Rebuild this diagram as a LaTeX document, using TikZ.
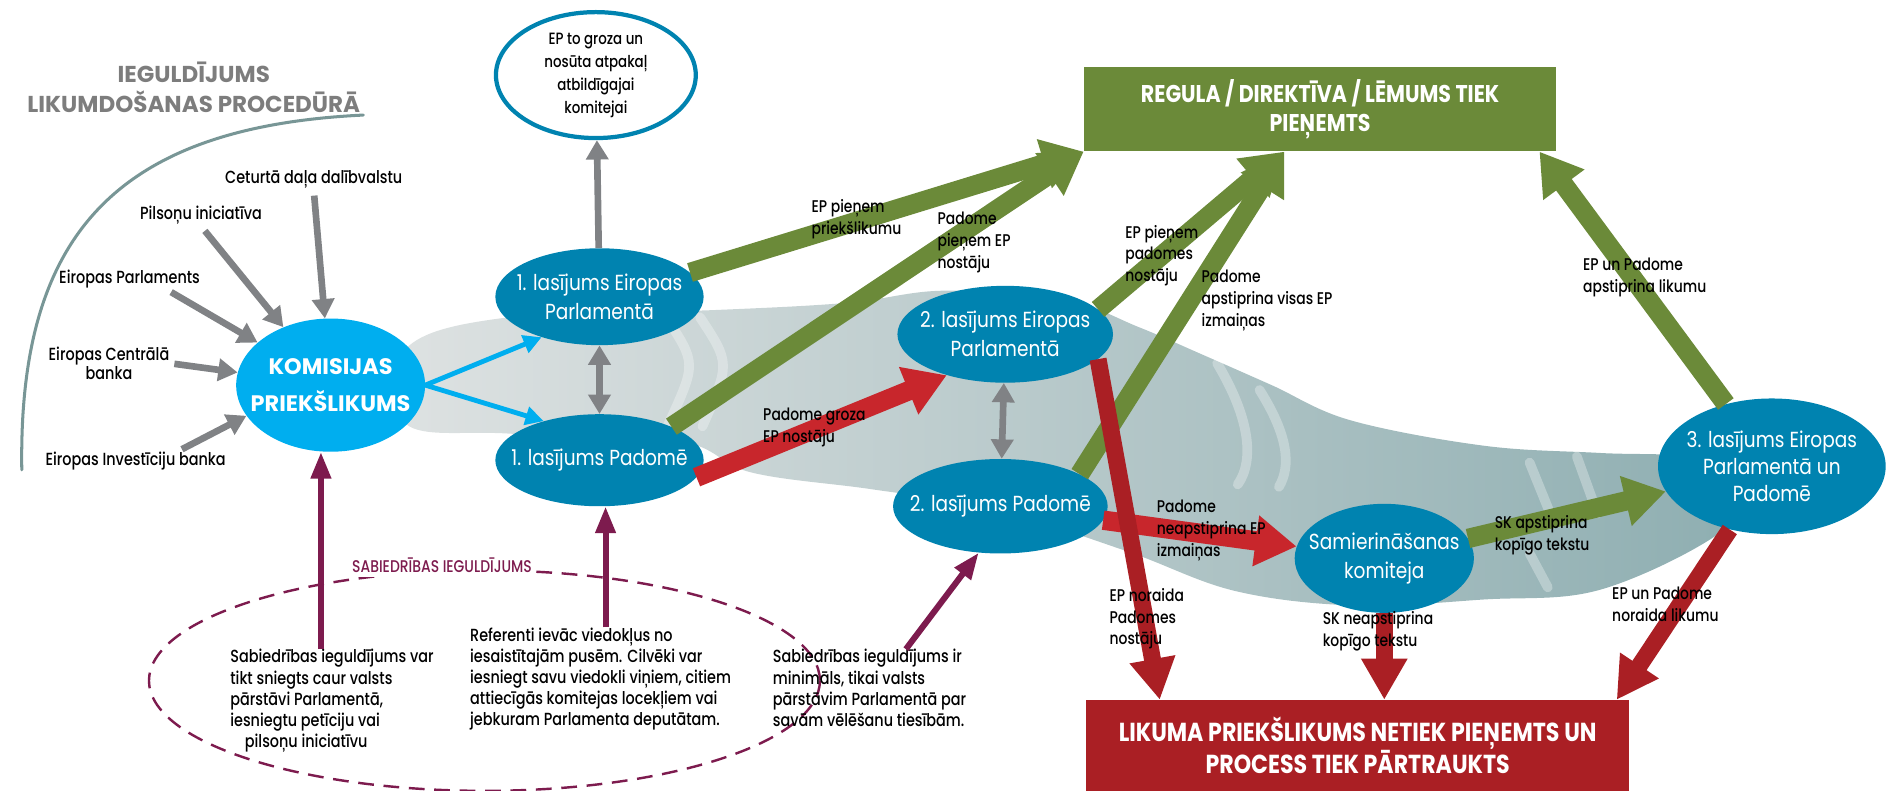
\documentclass[tikz,border=0pt]{standalone}
\usepackage{fontspec}
\setmainfont{Poppins}
\newfontfamily\narrowfont[FakeStretch=0.85]{Poppins}
\newfontfamily\labelfont[FakeStretch=0.82]{Poppins Medium}
\usepackage{tikz}
\tikzset{>=latex}
\usetikzlibrary{positioning,calc,arrows.meta,shapes.geometric}

\definecolor{epblue}{RGB}{0,131,176}
\definecolor{komcyan}{RGB}{0,174,239}
\definecolor{okgreen}{RGB}{107,138,57}
\definecolor{failred}{RGB}{200,38,44}
\definecolor{boxred}{RGB}{170,31,36}
\definecolor{flowgray}{RGB}{128,130,133}
\definecolor{pubpurple}{RGB}{125,27,78}
\definecolor{titlegray}{RGB}{125,125,125}
\definecolor{arcteal}{RGB}{120,150,150}
\definecolor{bandlight}{RGB}{222,226,226}
\definecolor{bandmid}{RGB}{180,199,201}
\definecolor{banddark}{RGB}{142,174,177}

\begin{document}
\begin{tikzpicture}[x=1pt,y=-1pt,
    lasijums/.style={ellipse,fill=epblue,text=white,align=center,inner ysep=0pt,inner xsep=-12pt,
        font=\narrowfont\fontsize{18}{24}\selectfont},
    komnode/.style={ellipse,fill=komcyan,text=white,align=center,inner ysep=0pt,inner xsep=-14pt,
        minimum width=156pt,minimum height=110pt,font=\bfseries\fontsize{18.5}{30}\selectfont},
    retnode/.style={ellipse,draw=epblue,line width=3.5pt,fill=white,align=center,inner sep=0pt,
        minimum width=165pt,minimum height=104pt,font=\labelfont\fontsize{13.5}{19}\selectfont},
    endbox/.style={rectangle,text=white,align=center,inner sep=0pt,
        font=\narrowfont\bfseries\fontsize{20}{24}\selectfont},
    srclabel/.style={align=center,inner sep=1pt,font=\labelfont\fontsize{14.5}{16}\selectfont},
    arrowlabel/.style={anchor=west,align=left,inner sep=0pt,font=\labelfont\fontsize{14}{18}\selectfont},
    pubtext/.style={anchor=north west,align=left,inner sep=0pt,font=\labelfont\fontsize{14.5}{17.5}\selectfont},
    pubring/.style={ellipse,draw=pubpurple,line width=2pt,dash pattern=on 13pt off 8pt,
        minimum width=554pt,minimum height=182pt},
    streak/.style={white,opacity=0.3,line width=8pt,line cap=round},
    greenflow/.style={okgreen,line width=16pt,-{Triangle[width=40pt,length=34pt]}},
    redflow/.style={failred,line width=16pt,-{Triangle[width=40pt,length=34pt]}},
    darkredflow/.style={boxred,line width=14pt,-{Triangle[width=36pt,length=34pt]}},
    grayflow/.style={flowgray,line width=5.5pt,-{Triangle[width=18pt,length=16pt]}},
    graytwoway/.style={flowgray,line width=5.5pt,{Triangle[width=18pt,length=16pt]}-{Triangle[width=18pt,length=16pt]}},
    cyanflow/.style={komcyan,line width=4pt,-{Triangle[width=15pt,length=15pt]}},
    pubflow/.style={pubpurple,line width=5pt,-{Triangle[width=16pt,length=22pt]}}
    ]
\useasboundingbox (0,0) rectangle (1568,653);

% smoky band behind the procedure
\shade[left color=bandlight,middle color=bandmid,right color=banddark]
    plot[smooth cycle,tension=0.6] coordinates {(335,288) (420,262) (590,256) (700,250) (780,240)
    (880,248) (940,270) (991,292) (1050,318) (1115,347) (1225,368) (1321,374) (1400,378) (1440,400)
    (1420,440) (1321,487) (1225,495) (1120,500) (1020,488) (930,455) (820,420) (720,404)
    (620,390) (560,364) (420,358) (335,350)};
\draw[streak] (550,262) .. controls (575,300) .. (552,350);
\draw[streak] (578,262) .. controls (603,300) .. (580,352);
\draw[streak] (1005,300) .. controls (1032,345) and (1036,380) .. (1022,400);
\draw[streak] (1040,322) .. controls (1064,360) and (1066,385) .. (1056,402);
\draw[streak] (1263,382) -- (1280,424);
\draw[streak] (1302,377) -- (1319,424);
\draw[streak] (1263,457) -- (1278,485);

% title and arc
\node[align=center,text=titlegray,font=\bfseries\fontsize{19}{25}\selectfont] (title) at (160,72)
    {IEGULDĪJUMS\\LIKUMDOŠANAS PROCEDŪRĀ};
\draw[arcteal,line width=2.5pt,line cap=round] (18,388) .. controls (15,200) and (90,105) .. (300,95);

% public input ring
\node[pubring] (ring) at (400,562) {};

% main nodes
\node[komnode] (kom) at (273,318) {KOMISIJAS\\PRIEKŠLIKUMS};
\node[retnode] (ret) at (492,62) {EP to groza un\\nosūta atpakaļ\\atbildīgajai\\komitejai};
\node[lasijums,minimum width=172pt,minimum height=80pt] (ep1) at (495,245) {1. lasījums Eiropas\\Parlamentā};
\node[lasijums,minimum width=172pt,minimum height=76pt] (pad1) at (495,380) {1. lasījums Padomē};
\node[lasijums,minimum width=178pt,minimum height=80pt] (ep2) at (830,276) {2. lasījums Eiropas\\Parlamentā};
\node[lasijums,minimum width=170pt,minimum height=78pt] (pad2) at (826,418) {2. lasījums Padomē};
\node[lasijums,minimum width=148pt,minimum height=90pt] (samier) at (1143,461) {Samierināšanas\\komiteja};
\node[lasijums,minimum width=188pt,minimum height=112pt,font=\narrowfont\fontsize{18}{22.5}\selectfont] (third) at (1463,385)
    {3. lasījums Eiropas\\Parlamentā un\\Padomē};
\node[endbox,fill=okgreen,minimum width=390pt,minimum height=70pt] (regula) at (1090,90)
    {REGULA / DIREKTĪVA / LĒMUMS TIEK\\PIEŅEMTS};
\node[endbox,fill=boxred,minimum width=448pt,minimum height=75pt,font=\narrowfont\bfseries\fontsize{21.5}{24}\selectfont] (fail) at (1121,615.5)
    {LIKUMA PRIEKŠLIKUMS NETIEK PIEŅEMTS UN\\PROCESS TIEK PĀRTRAUKTS};

% who can start
\node[srclabel] (cet) at (259,148) {Ceturtā daļa dalībvalstu};
\node[srclabel] (pil) at (166,178) {Pilsoņu iniciatīva};
\node[srclabel] (epsrc) at (107,230) {Eiropas Parlaments};
\node[srclabel] (ecb) at (90,300) {Eiropas Centrālā\\banka};
\node[srclabel] (eib) at (112,381) {Eiropas Investīciju banka};

\draw[grayflow,shorten <=5pt] (cet.south) -- (kom);
\draw[grayflow,shorten <=5pt] (pil.south) -- (kom);
\draw[grayflow,shorten <=5pt] ([xshift=30pt]epsrc.south) -- (kom);
\draw[grayflow,shorten <=3pt] (ecb.east) -- (kom);
\draw[grayflow,shorten <=3pt] ([xshift=-40pt]eib.north east) -- (kom.200);

% commission to first reading
\draw[cyanflow] (kom.east) -- (ep1.215);
\draw[cyanflow] (kom.east) -- (pad1.145);
\draw[grayflow] (ep1) -- (ret);
\draw[graytwoway] (ep1) -- (pad1);
\draw[graytwoway] (ep2) -- (pad2);

% adopted
\draw[greenflow] (ep1.15) -- (regula.south west);
\draw[greenflow] (pad1.25) -- (regula.south west);
\draw[greenflow] (ep2.15) -- (regula.-130);
\draw[greenflow] (pad2.22) -- (regula.-130);
\draw[greenflow] (third) -- (regula.-11);
\draw[greenflow] (samier) -- (third);

% amended / rejected
\draw[redflow] (pad1.-10) -- (ep2.215);
\draw[redflow] (pad2) -- (samier);
\draw[darkredflow] (ep2.-15) -- (fail.167);
\draw[darkredflow] (samier.south) -- (samier.south |- fail.north);
\draw[darkredflow] (third) -- (fail.10);

% labels on the flows
\node[arrowlabel] (lbaccept) at (670,181) {EP pieņem\\priekšlikumu};
\node[arrowlabel] (lbcouncil) at (774,200) {Padome\\pieņem EP\\nostāju};
\node[arrowlabel] (lbamend) at (630,353) {Padome groza\\EP nostāju};
\node[arrowlabel] (lbepok) at (929,211) {EP pieņem\\padomes\\nostāju};
\node[arrowlabel] (lbcouncilok) at (992,248) {Padome\\apstiprina visas EP\\izmaiņas};
\node[arrowlabel] (lbthirdok) at (1307,229) {EP un Padome\\apstiprina likumu};
\node[arrowlabel] (lbnotok) at (955,438) {Padome\\neapstiprina EP\\izmaiņas};
\node[arrowlabel] (lbskok) at (1234,442) {SK apstiprina\\kopīgo tekstu};
\node[arrowlabel] (lbepno) at (916,511) {EP noraida\\Padomes\\nostāju};
\node[arrowlabel] (lbskno) at (1092,521) {SK neapstiprina\\kopīgo tekstu};
\node[arrowlabel] (lbthirdno) at (1331,499) {EP un Padome\\noraida likumu};

% public input
\node[fill=white,inner sep=3pt,text=pubpurple,font=\labelfont\fontsize{14}{16}\selectfont] (publabel) at (365,467)
    {SABIEDRĪBAS IEGULDĪJUMS};
\node[pubtext] (publeft) at (190,536) {Sabiedrības ieguldījums var\\tikt sniegts caur valsts\\pārstāvi Parlamentā,\\iesniegtu petīciju vai\\\hspace*{12pt}pilsoņu iniciatīvu};
\node[pubtext] (pubmid) at (388,518) {Referenti ievāc viedokļus no\\iesaistītajām pusēm. Cilvēki var\\iesniegt savu viedokli viņiem, citiem\\attiecīgās komitejas locekļiem vai\\jebkuram Parlamenta deputātam.};
\node[pubtext] (pubright) at (638,536) {Sabiedrības ieguldījums ir\\minimāls, tikai valsts\\pārstāvim Parlamentā par\\savām vēlēšanu tiesībām.};

\draw[pubflow] ([xshift=-8pt]kom.south |- publeft.north) -- ([xshift=-8pt]kom.south);
\draw[pubflow] ([xshift=5pt]pad1.south |- pubmid.north) -- ([xshift=5pt]pad1.south);
\draw[pubflow] ([xshift=110pt]pubright.north west) -- (pad2.245);
\end{tikzpicture}
\end{document}
